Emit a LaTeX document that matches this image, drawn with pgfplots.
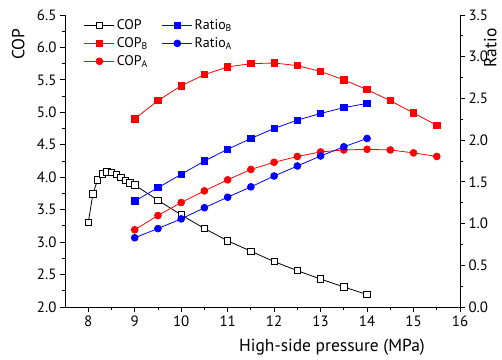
\documentclass[border=0pt]{standalone}
\usepackage{fontspec}
\setmainfont{PT Sans}
\usepackage{pgfplots}
\pgfplotsset{compat=1.18}
\pgfplotsset{
  common/.style={
    scale only axis, width=395bp, height=292bp,
    xmin=7.5, xmax=16,
    tick align=outside,
    major tick length=5bp, minor tick length=3bp,
    axis line style={-, line width=0.8bp, black},
    every tick/.style={black, line width=0.8bp},
    tick label style={font=\fontsize{15}{17}\selectfont},
    label style={font=\fontsize{17.5}{19}\selectfont},
    /pgf/number format/assume math mode=true,
  },
  myleg/.style={legend image code/.code={
    \draw[mark repeat=2,mark phase=2] plot coordinates {(0bp,0bp) (15bp,0bp) (30bp,0bp)};}},
}
\begin{document}
\begin{tikzpicture}
\useasboundingbox (-65bp,-53bp) rectangle (437bp,307bp);
\begin{axis}[common,
  ymin=2, ymax=6.5,
  axis x line*=bottom, axis y line*=left,
  xtick={8,9,10,11,12,13,14,15,16}, minor x tick num=1,
  ytick={2,2.5,3,3.5,4,4.5,5,5.5,6,6.5}, minor y tick num=1,
  yticklabel style={/pgf/number format/.cd, fixed, fixed zerofill, precision=1},
  xlabel={High-side pressure (MPa)},
  xlabel style={at={(axis description cs:0.676,-0.137)}, anchor=center},
  ylabel={COP},
  ylabel style={at={(axis description cs:-0.118,0.90)}, anchor=center, rotate=0},
  legend columns=2,
  legend style={at={(axis description cs:0.04,0.998)}, anchor=north west, draw=none, fill=none,
    font=\fontsize{14}{16}\selectfont, row sep=2.5bp,
    /tikz/every even column/.append style={column sep=12bp}},
  legend cell align=left,
  myleg,
]
\addplot[black, line width=0.8bp, mark=square*, mark size=3.2bp, mark options={fill=white, solid}] coordinates {
(8.0,3.30) (8.1,3.74) (8.2,3.96) (8.3,4.05) (8.4,4.08) (8.5,4.07) (8.6,4.04) (8.7,4.00) (8.8,3.95) (8.9,3.91) (9.0,3.88)
(9.5,3.645) (10,3.42) (10.5,3.21) (11,3.02) (11.5,2.86) (12,2.70) (12.5,2.56) (13,2.43) (13.5,2.31) (14,2.19)};
\addlegendentry{COP}
\addlegendimage{blue, line width=0.8bp, mark=square*, mark size=3.2bp, mark options={fill=blue, solid}}
\addlegendentry{Ratio\textsubscript{B}}
\addplot[red, line width=0.8bp, mark=square*, mark size=3.2bp, mark options={fill=red, solid}] coordinates {
(9,4.90) (9.5,5.18) (10,5.41) (10.5,5.58) (11,5.70) (11.5,5.75) (12,5.76) (12.5,5.72) (13,5.63) (13.5,5.50) (14,5.35) (14.5,5.18) (15,4.99) (15.5,4.80)};
\addlegendentry{COP\textsubscript{B}}
\addlegendimage{blue, line width=0.8bp, mark=*, mark size=3.4bp, mark options={fill=blue, solid}}
\addlegendentry{Ratio\textsubscript{A}}
\addplot[red, line width=0.8bp, mark=*, mark size=3.4bp, mark options={fill=red, solid}] coordinates {
(9,3.19) (9.5,3.41) (10,3.61) (10.5,3.79) (11,3.96) (11.5,4.12) (12,4.23) (12.5,4.32) (13,4.39) (13.5,4.42) (14,4.43) (14.5,4.42) (15,4.375) (15.5,4.32)};
\addlegendentry{COP\textsubscript{A}}
\end{axis}
\begin{axis}[common,
  ymin=0, ymax=3.5,
  axis x line=none, axis y line*=right,
  ytick={0,0.5,1,1.5,2,2.5,3,3.5}, minor y tick num=1,
  yticklabel style={/pgf/number format/.cd, fixed, fixed zerofill, precision=1},
  ylabel={Ratio},
  ylabel style={at={(axis description cs:1.077,0.887)}, anchor=center},
]
\addplot[blue, line width=0.8bp, mark=square*, mark size=3.2bp, mark options={fill=blue, solid}] coordinates {
(9,1.27) (9.5,1.43) (10,1.59) (10.5,1.75) (11,1.89) (11.5,2.02) (12,2.14) (12.5,2.24) (13,2.32) (13.5,2.39) (14,2.44)};
\addplot[blue, line width=0.8bp, mark=*, mark size=3.4bp, mark options={fill=blue, solid}] coordinates {
(9,0.83) (9.5,0.94) (10,1.056) (10.5,1.19) (11,1.316) (11.5,1.44) (12,1.57) (12.5,1.69) (13,1.81) (13.5,1.92) (14,2.02)};
\end{axis}
\end{tikzpicture}
\end{document}
